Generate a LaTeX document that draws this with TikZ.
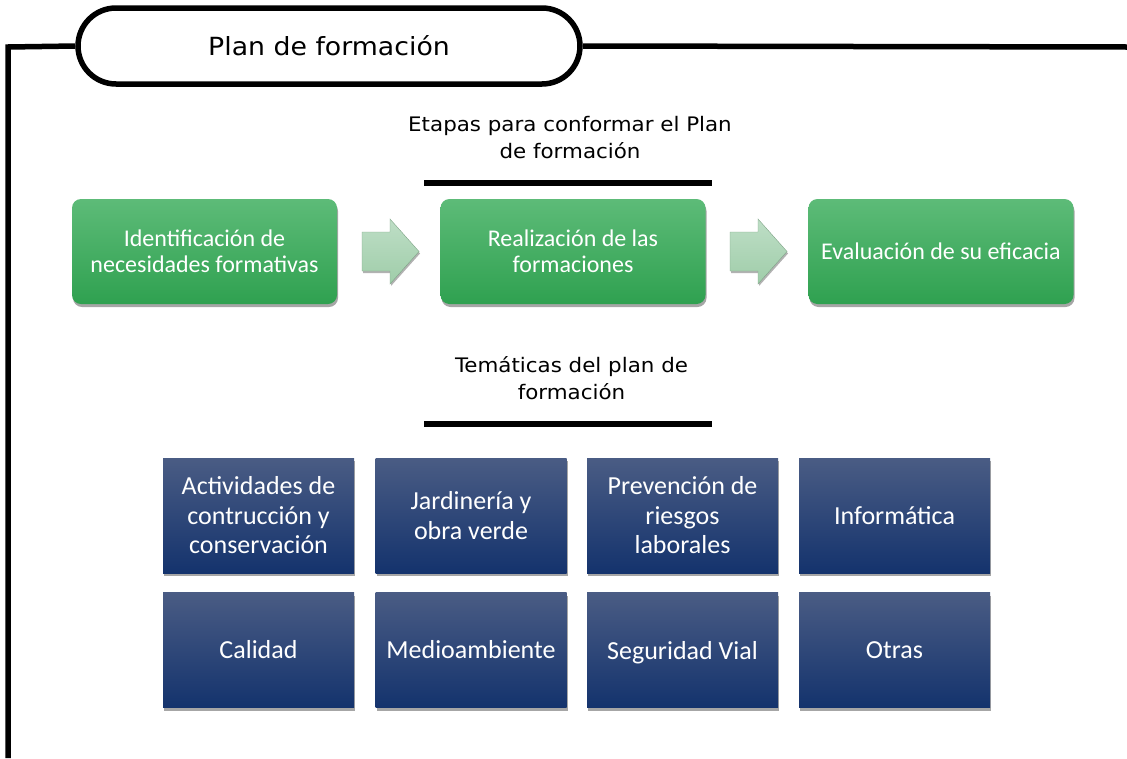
\documentclass[tikz,border=0pt]{standalone}
\usepackage{fontspec}
\setmainfont[FakeStretch=1.07]{DejaVu Sans}
\newfontfamily\boxfont{Carlito}
\usetikzlibrary{shadows,shapes.arrows}
\definecolor{gtop}{HTML}{5DBB78}
\definecolor{gbot}{HTML}{2FA150}
\definecolor{btop}{HTML}{4A5C84}
\definecolor{bbot}{HTML}{14336D}
\definecolor{atop}{HTML}{BEDEC6}
\definecolor{abot}{HTML}{9FCDA9}
\tikzset{
  frame/.style={line width=5.5pt, black},
  rule/.style={line width=6pt, black},
  hdr/.style={font=\fontsize{20}{27}\selectfont, align=center, text=black},
  greenbox/.style={rounded corners=9pt, top color=gtop, bottom color=gbot, draw=none,
    drop shadow={shadow xshift=1pt, shadow yshift=-3pt, opacity=0.35, fill=black},
    minimum width=265pt, minimum height=105pt, text=white, align=center,
    font=\boxfont\fontsize{24}{26}\selectfont},
  bluebox/.style={top color=btop, bottom color=bbot, draw=none,
    drop shadow={shadow xshift=1pt, shadow yshift=-3pt, opacity=0.35, fill=black},
    minimum width=191pt, minimum height=115pt, text=white, align=center,
    font=\boxfont\fontsize{26}{29.5}\selectfont},
  flow/.style={top color=atop, bottom color=abot, draw=abot!80!black, line width=0.4pt,
    drop shadow={shadow xshift=1pt, shadow yshift=-2pt, opacity=0.3, fill=black}}
}
\begin{document}
\begin{tikzpicture}[x=1pt,y=-1pt]
\useasboundingbox (0,0) rectangle (1127,758);
% frame
\node[draw, line width=5.5pt, rounded corners=38pt, minimum width=502pt, minimum height=76pt,
  font=\fontsize{25}{28}\selectfont, inner sep=0pt] (title) at (329,46) {Plan de formación};
\coordinate (fbot) at (8,758);
\coordinate (fright) at (1127,47);
\draw[frame] (title.west) -- (8,47) -- (fbot);
\draw[frame] (title.east) -- (fright);
% headers
\node[hdr] (h1) at (570,138) {Etapas para conformar el Plan\\de formación};
\draw[rule] (424,183) -- (712,183);
\node[hdr] (h2) at (571.5,378) {Temáticas del plan de\\formación};
\draw[rule] (424,423.5) -- (712,423.5);
% green boxes
\node[greenbox] (g1) at (204.5,251.5) {Identificación de\\necesidades formativas};
\node[greenbox] (g2) at (573,251.5) {Realización de las\\formaciones};
\node[greenbox] (g3) at (941,251.5) {Evaluación de su eficacia};
% arrows
\draw[flow] (362,232) -- (390,232) -- (390,219) -- (419,251.5) -- (390,284) -- (390,271) -- (362,271) -- cycle;
\draw[flow] (730,232) -- (758,232) -- (758,219) -- (787,251.5) -- (758,284) -- (758,271) -- (730,271) -- cycle;
% blue boxes
\node[bluebox] (b1) at (258.5,515.5) {Actividades de\\contrucción y\\conservación};
\node[bluebox] (b2) at (471,515.5) {Jardinería y\\obra verde};
\node[bluebox] (b3) at (682.5,515.5) {Prevención de\\riesgos\\laborales};
\node[bluebox] (b4) at (894.5,515.5) {Informática};
\node[bluebox] (b5) at (258.5,650) {Calidad};
\node[bluebox] (b6) at (471,650) {Medioambiente};
\node[bluebox, text depth=0pt] (b7) at (682.5,650) {Seguridad Vial};
\node[bluebox] (b8) at (894.5,650) {Otras};
\end{tikzpicture}
\end{document}
